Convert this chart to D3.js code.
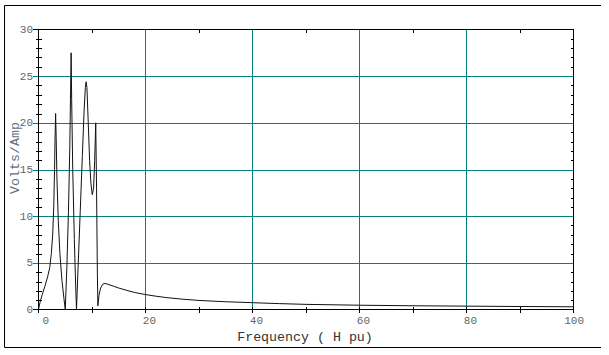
<!DOCTYPE html>
<meta charset="utf-8">
<head>
    <title>Volts/Amp vs Frequency</title>
</head>
<style>
    body { margin: 0; background: #fff; }
    text { font-family: "Courier New", "Liberation Mono", monospace; }
</style>
<body>
    <svg id="chart"></svg>
    <script src="https://cdnjs.cloudflare.com/ajax/libs/d3/7.8.5/d3.min.js"></script>
    <script>
        // Data (frequency in H pu, impedance in Volts/Amp)
        var freq = [0, 0.3, 0.7, 1.2, 1.7, 2.1, 2.4, 2.65, 2.85, 3.0, 3.1, 3.2, 3.3, 3.45, 3.7, 4.0, 4.4, 4.75, 5.0,
            5.3, 5.6, 5.85, 6.0, 6.1, 6.2, 6.4, 6.7, 6.95, 7.1,
            7.4, 7.8, 8.2, 8.5, 8.75, 8.9, 9.05, 9.3, 9.55, 9.8, 10.05, 10.3, 10.5, 10.7, 10.85, 11.0, 11.1,
            11.3, 11.6, 12.0, 12.4, 13.0, 14.0, 15.0, 16.5, 18.0, 20.0, 22.0, 24.0, 27.0, 30.0, 35.0,
            40.0, 45.0, 50.0, 60.0, 70.0, 80.0, 90.0, 100.0];
        var volts = [0, 0.8, 1.6, 2.5, 3.5, 4.5, 6.0, 8.0, 11.0, 15.0, 18.5, 21.0, 18.5, 14.0, 9.5, 6.0, 3.0, 1.2, 0.0,
            4.5, 10.5, 17.5, 23.5, 27.5, 22.5, 15.0, 7.5, 2.5, 0.0,
            4.5, 10.5, 16.5, 21.0, 23.8, 24.4, 23.8, 20.0, 16.0, 13.5, 12.3, 13.0, 16.0, 20.0, 13.0, 4.0, 0.4,
            1.5, 2.3, 2.7, 2.8, 2.7, 2.5, 2.3, 2.05, 1.82, 1.6, 1.42, 1.27, 1.1, 0.97, 0.83,
            0.73, 0.63, 0.55, 0.46, 0.4, 0.36, 0.32, 0.29];

        var xTicks = [0, 20, 40, 60, 80, 100];
        var xMinor = d3.range(10, 100, 10);
        var yTicks = [0, 5, 10, 15, 20, 25, 30];
        var yMinor = d3.range(1, 30, 1);

        var width = 609, height = 355;
        var teal = "#008080";

        var svg = d3.select("#chart").attr("width", width).attr("height", height);

        var x = d3.scaleLinear().domain([0, 100]).range([38.5, 573.5]);
        var y = d3.scaleLinear().domain([0, 30]).range([309.5, 29.5]);

        // outer frame (top, left, bottom)
        svg.append("path")
            .attr("d", "M601,5.5H4.5V347.5H601")
            .attr("fill", "none")
            .attr("stroke", "#000");

        var g = svg.append("g").attr("shape-rendering", "crispEdges");

        // grid
        g.selectAll(".vgrid")
            .data(xTicks.filter(d => d > 0 && d < 100))
            .enter().append("line")
            .attr("x1", d => x(d)).attr("x2", d => x(d))
            .attr("y1", y(30)).attr("y2", y(0) + 3)
            .attr("stroke", teal);
        g.selectAll(".hgrid")
            .data(yTicks.filter(d => d > 0 && d < 30))
            .enter().append("line")
            .attr("x1", x(0) - 6).attr("x2", x(100))
            .attr("y1", d => Math.round(y(d)) + 0.5).attr("y2", d => Math.round(y(d)) + 0.5)
            .attr("stroke", teal);

        // minor ticks on x (bottom crossing, top inward)
        g.selectAll(".xmb")
            .data(xMinor)
            .enter().append("line")
            .attr("x1", d => x(d)).attr("x2", d => x(d))
            .attr("y1", y(0) - 3).attr("y2", y(0) + 3)
            .attr("stroke", "#000");
        g.selectAll(".xmt")
            .data(xMinor.filter(d => d % 20 !== 0))
            .enter().append("line")
            .attr("x1", d => x(d)).attr("x2", d => x(d))
            .attr("y1", y(30)).attr("y2", y(30) + 3)
            .attr("stroke", "#000");

        // minor ticks on y (left crossing, right inward)
        var yMinorOnly = yMinor.filter(d => d % 5 !== 0);
        g.selectAll(".yml")
            .data(yMinorOnly)
            .enter().append("line")
            .attr("x1", x(0) - 3).attr("x2", x(0) + 3)
            .attr("y1", d => Math.round(y(d)) + 0.5).attr("y2", d => Math.round(y(d)) + 0.5)
            .attr("stroke", "#000");
        g.selectAll(".ymr")
            .data(yMinorOnly)
            .enter().append("line")
            .attr("x1", x(100) - 3).attr("x2", x(100))
            .attr("y1", d => Math.round(y(d)) + 0.5).attr("y2", d => Math.round(y(d)) + 0.5)
            .attr("stroke", "#000");

        // plot box
        g.append("rect")
            .attr("x", x(0)).attr("y", y(30))
            .attr("width", x(100) - x(0)).attr("height", y(0) - y(30))
            .attr("fill", "none").attr("stroke", "#000");
        // major ticks at 0 and 30 extending left, and at 0/100 below
        g.selectAll(".ymaj")
            .data([0, 30])
            .enter().append("line")
            .attr("x1", x(0) - 6).attr("x2", x(0))
            .attr("y1", d => y(d)).attr("y2", d => y(d))
            .attr("stroke", "#000");
        g.selectAll(".xmaj")
            .data([0, 100])
            .enter().append("line")
            .attr("x1", d => x(d)).attr("x2", d => x(d))
            .attr("y1", y(0)).attr("y2", y(0) + 3)
            .attr("stroke", "#000");

        // curve
        var pts = freq.map((f, i) => [f, volts[i]]);
        var line = d3.line()
            .x(d => x(d[0]))
            .y(d => y(d[1]));
        svg.append("path")
            .datum(pts)
            .attr("d", line)
            .attr("fill", "none")
            .attr("stroke", "#111")
            .attr("stroke-width", 1);

        // tick labels
        svg.selectAll(".xlab")
            .data(xTicks)
            .enter().append("text")
            .attr("x", d => x(d) + 10.5)
            .attr("y", y(0) + 14)
            .attr("text-anchor", "end")
            .attr("font-size", "11px")
            .attr("fill", "#666")
            .text(d => d);
        svg.selectAll(".ylab")
            .data(yTicks)
            .enter().append("text")
            .attr("x", x(0) - 5.5)
            .attr("y", d => y(d) + 3.5)
            .attr("text-anchor", "end")
            .attr("font-size", "11px")
            .attr("fill", "#666")
            .text(d => d);

        // axis titles
        svg.append("text")
            .attr("x", 305)
            .attr("y", 341)
            .attr("text-anchor", "middle")
            .attr("font-size", "13.3px")
            .attr("fill", "#333")
            .text("Frequency ( H pu)");
        svg.append("text")
            .attr("transform", "translate(18.5,158) rotate(-90)")
            .attr("text-anchor", "middle")
            .attr("font-size", "13.3px")
            .attr("fill", "#5f6f80")
            .text("Volts/Amp");
    </script>
</body>
</html>
